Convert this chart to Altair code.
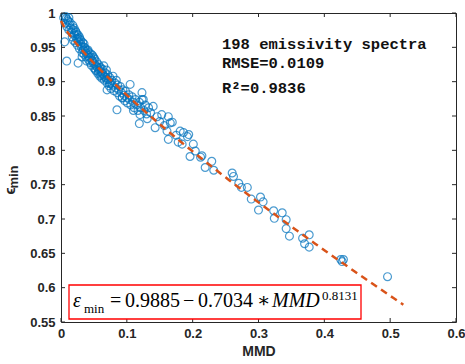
import altair as alt
import pandas as pd

# ---- scatter data ----
mmd = [
    0.004, 0.007, 0.010, 0.006, 0.011, 0.009, 0.013, 0.015, 0.012, 0.016, 0.018, 0.020, 0.017, 0.021,
    0.023, 0.019, 0.024, 0.026, 0.022, 0.027, 0.025, 0.029, 0.030, 0.028, 0.031, 0.033, 0.034, 0.032,
    0.036, 0.035, 0.037, 0.038, 0.040, 0.039, 0.041, 0.043, 0.042, 0.044, 0.045, 0.047, 0.046, 0.048,
    0.049, 0.050, 0.051, 0.052, 0.053, 0.054, 0.055, 0.056, 0.057, 0.058, 0.059, 0.060, 0.061, 0.062,
    0.063, 0.064, 0.065, 0.066, 0.067, 0.068, 0.069, 0.070, 0.071, 0.072, 0.073, 0.074, 0.075, 0.076,
    0.077, 0.078, 0.079, 0.080, 0.082, 0.083, 0.084, 0.085, 0.086, 0.088, 0.089, 0.090, 0.092, 0.093,
    0.094, 0.096, 0.097, 0.098, 0.100, 0.101, 0.103, 0.104, 0.106, 0.108, 0.110, 0.111, 0.113, 0.115,
    0.117, 0.119, 0.121, 0.123, 0.126, 0.128, 0.130, 0.133, 0.136,
    0.008, 0.012, 0.014, 0.018, 0.020, 0.022, 0.024, 0.026, 0.028, 0.030, 0.033, 0.035, 0.037, 0.039,
    0.041, 0.043, 0.046, 0.048, 0.050, 0.052, 0.054, 0.057, 0.059, 0.061, 0.063, 0.066, 0.069, 0.074,
    0.0056, 0.0087, 0.026, 0.032,
    0.085, 0.119, 0.143, 0.093, 0.070, 0.105, 0.123, 0.125, 0.140, 0.146, 0.169, 0.161, 0.186, 0.192,
    0.120, 0.153, 0.163, 0.166, 0.163, 0.181, 0.178, 0.184, 0.194, 0.201, 0.204, 0.196, 0.212, 0.219,
    0.229, 0.232, 0.260, 0.262, 0.270, 0.274, 0.283, 0.289, 0.303, 0.307, 0.300, 0.323, 0.324, 0.336,
    0.342, 0.342, 0.347, 0.367, 0.370, 0.377, 0.377, 0.425, 0.429, 0.427, 0.496, 0.214,
    0.110, 0.131, 0.150, 0.157, 0.175,
]
emin = [
    0.993, 0.995, 0.990, 0.985, 0.988, 0.980, 0.983, 0.978, 0.975, 0.972, 0.976, 0.970, 0.965, 0.967,
    0.972, 0.960, 0.962, 0.968, 0.957, 0.958, 0.953, 0.962, 0.955, 0.948, 0.950, 0.957, 0.946, 0.942,
    0.950, 0.940, 0.944, 0.936, 0.945, 0.930, 0.938, 0.942, 0.932, 0.928, 0.936, 0.931, 0.924, 0.938,
    0.927, 0.920, 0.933, 0.925, 0.916, 0.929, 0.921, 0.912, 0.925, 0.917, 0.908, 0.921, 0.914, 0.905,
    0.918, 0.910, 0.923, 0.902, 0.913, 0.906, 0.917, 0.898, 0.910, 0.903, 0.894, 0.906, 0.899, 0.890,
    0.902, 0.895, 0.908, 0.887, 0.898, 0.891, 0.902, 0.884, 0.895, 0.888, 0.879, 0.893, 0.884, 0.876,
    0.888, 0.880, 0.872, 0.886, 0.877, 0.869, 0.881, 0.874, 0.866, 0.878, 0.870, 0.862, 0.874, 0.866,
    0.858, 0.870, 0.862, 0.874, 0.858, 0.866, 0.853, 0.862, 0.855,
    0.992, 0.993, 0.986, 0.982, 0.978, 0.974, 0.969, 0.963, 0.965, 0.960, 0.951, 0.955, 0.948, 0.941,
    0.946, 0.935, 0.940, 0.930, 0.935, 0.918, 0.922, 0.914, 0.920, 0.909, 0.912, 0.908, 0.903, 0.897,
    0.958, 0.930, 0.927, 0.936,
    0.859, 0.839, 0.833, 0.877, 0.888, 0.896, 0.884, 0.874, 0.864, 0.849, 0.841, 0.828, 0.826, 0.820,
    0.852, 0.852, 0.849, 0.840, 0.816, 0.828, 0.812, 0.809, 0.823, 0.809, 0.799, 0.791, 0.790, 0.775,
    0.784, 0.771, 0.767, 0.762, 0.752, 0.746, 0.746, 0.729, 0.732, 0.725, 0.713, 0.712, 0.701, 0.709,
    0.699, 0.686, 0.675, 0.672, 0.664, 0.659, 0.677, 0.641, 0.641, 0.638, 0.616, 0.792,
    0.858, 0.846, 0.842, 0.836, 0.822,
]

# fitted model shown in the chart: emin = a - b * MMD^c
fit_a, fit_b, fit_c = 0.9885, 0.7034, 0.8131
fit_x = [i * 0.005 for i in range(0, 105)]
fit_y = [fit_a - fit_b * (v ** fit_c) for v in fit_x]

x_ticks = [0, 0.1, 0.2, 0.3, 0.4, 0.5, 0.6]
y_ticks = [0.55, 0.6, 0.65, 0.7, 0.75, 0.8, 0.85, 0.9, 0.95, 1.0]

info_lines = ["198 emissivity spectra", "RMSE=0.0109", "R\u00b2=0.9836"]

W, H = 395, 309
INK = "#262626"
SANS = "Liberation Sans"
SERIF = "Liberation Serif"

xs = alt.Scale(domain=[0, 0.6], nice=False, zero=False)
ys = alt.Scale(domain=[0.55, 1.0], nice=False, zero=False)

xaxis = alt.Axis(values=x_ticks, format="~g", title="MMD", ticks=False, domain=False, grid=False,
                 labelFont=SANS, labelFontWeight="bold", labelFontSize=13, labelColor=INK,
                 labelPadding=5, labelOverlap=False, labelFlush=False,
                 titleFont=SANS, titleFontWeight="bold", titleFontSize=14,
                 titleColor=INK, titlePadding=4)
yaxis = alt.Axis(values=y_ticks, format="~g", title=None, ticks=False, domain=False, grid=False,
                 labelFont=SANS, labelFontWeight="bold", labelFontSize=13, labelColor=INK,
                 labelPadding=6, labelOverlap=False, labelFlush=False)

pts = pd.DataFrame({"MMD": mmd, "emin": emin})
fit = pd.DataFrame({"MMD": fit_x, "emin": fit_y})

points = alt.Chart(pts).mark_point(shape="circle", filled=False, color="#0072BD",
                                   strokeWidth=1.2, size=62).encode(
    x=alt.X("MMD:Q", scale=xs, axis=xaxis),
    y=alt.Y("emin:Q", scale=ys, axis=yaxis),
)

line = alt.Chart(fit).mark_line(color="#D95319", strokeWidth=2.5, strokeDash=[7, 5]).encode(
    x=alt.X("MMD:Q", scale=xs, axis=xaxis),
    y=alt.Y("emin:Q", scale=ys, axis=yaxis),
)

xt = pd.DataFrame({"v": x_ticks})
yt = pd.DataFrame({"v": y_ticks})
tb = alt.Chart(xt).mark_rule(color=INK, strokeWidth=1).encode(
    x=alt.X("v:Q", scale=xs, axis=xaxis), y=alt.value(H), y2=alt.value(H - 4))
tt = alt.Chart(xt).mark_rule(color=INK, strokeWidth=1).encode(
    x=alt.X("v:Q", scale=xs, axis=xaxis), y=alt.value(0), y2=alt.value(4))
tl = alt.Chart(yt).mark_rule(color=INK, strokeWidth=1).encode(
    y=alt.Y("v:Q", scale=ys, axis=yaxis), x=alt.value(0), x2=alt.value(4))
tr = alt.Chart(yt).mark_rule(color=INK, strokeWidth=1).encode(
    y=alt.Y("v:Q", scale=ys, axis=yaxis), x=alt.value(W), x2=alt.value(W - 4))

def txt(s, x, y, size, font, weight="normal", style="normal", angle=0, align="left",
        baseline="alphabetic", color="black"):
    kw = dict(align=align, baseline=baseline, fontSize=size, font=font, fontWeight=weight,
              fontStyle=style, color=color)
    if angle:
        kw["angle"] = angle
    return alt.Chart(pd.DataFrame({"t": [s]})).mark_text(**kw).encode(
        x=alt.value(x), y=alt.value(y), text="t:N")

info = [txt(s, 161, yy, 15.5, "Liberation Mono", weight="bold", color="#111111")
        for s, yy in zip(info_lines, [36, 55, 80])]

# y-axis title: epsilon with subscript "min"
ytitle = [
    txt("\u03f5", -51, 178, 15, SANS, weight="bold", angle=270, align="center", baseline="middle", color=INK),
    txt("min", -47, 164, 13, SANS, weight="bold", angle=270, align="center", baseline="middle", color=INK),
]

box = alt.Chart(pd.DataFrame({"a": [0]})).mark_rect(fill="white", stroke="#FF0000", strokeWidth=1.3).encode(
    x=alt.value(8), x2=alt.value(300), y=alt.value(272), y2=alt.value(306))

eq = [
    txt("\u03b5", 12, 294, 20, SERIF, style="italic"),
    txt("min", 23, 300, 13, SERIF),
    txt("=", 49, 294, 20, SERIF),
    txt("0.9885", 64, 294, 20, SERIF),
    txt("\u2212", 122, 294, 20, SERIF),
    txt("0.7034", 137, 294, 20, SERIF),
    txt("\u2217", 196, 294, 20, "DejaVu Serif"),
    txt("MMD", 211, 294, 20, SERIF, style="italic"),
    txt("0.8131", 261, 287, 13, SERIF),
]

chart = alt.layer(points, line, tb, tt, tl, tr, *info, *ytitle, box, *eq).properties(
    width=W, height=H,
    autosize=alt.AutoSizeParams(type="none"),
    padding={"left": 61, "top": 13, "right": 9, "bottom": 42},
    background="white",
).configure_view(stroke=INK, strokeWidth=1)

chart.save("out.html", embed_options={"renderer": "svg", "actions": False})
